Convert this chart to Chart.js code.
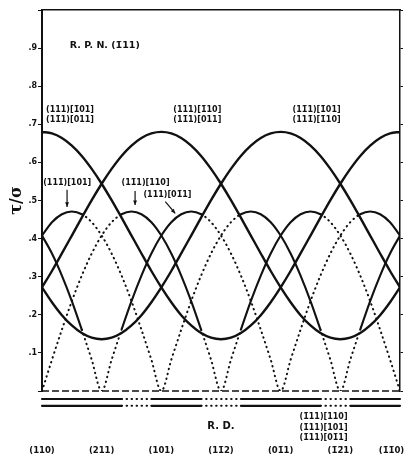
<!DOCTYPE html>
<html>
<head>
<meta charset="utf-8">
<script src="https://cdn.jsdelivr.net/npm/chart.js@4.4.1/dist/chart.umd.min.js"></script>
<style>
  html,body{margin:0;padding:0;background:#fff;}
  #wrap{width:408px;height:464px;}
</style>
</head>
<body>
<div id="wrap"><canvas id="schmidChart" width="408" height="464"></canvas></div>
<script>
// angle of R.D. in the rolling plane, degrees from [110]
const angles = [0,5,10,15,20,25,30,35,40,45,50,55,60,65,70,75,80,85,90,95,100,105,110,115,120,125,130,135,140,145,150,155,160,165,170,175,180];
const dirLabels = ['(110)','(211)','(101)','(11\u03042)','(01\u03041)','(1\u03042\u03041)','(1\u03041\u03040)'];
const yTickLabels = ['.1','.2','.3','.4','.5','.6','.7','.8','.9'];

// big curves (two systems each)
const sys101 = [.680,.676,.664,.644,.617,.583,.544,.501,.455,.408,.361,.315,.272,.233,.199,.172,.152,.140,.136,.140,.152,.172,.199,.233,.272,.315,.361,.408,.455,.501,.544,.583,.617,.644,.664,.676,.680];
const sys110 = [.272,.315,.361,.408,.455,.501,.544,.583,.617,.644,.664,.676,.680,.676,.664,.644,.617,.583,.544,.501,.455,.408,.361,.315,.272,.233,.199,.172,.152,.140,.136,.140,.152,.172,.199,.233,.272];
const sys1m01 = [.272,.233,.199,.172,.152,.140,.136,.140,.152,.172,.199,.233,.272,.315,.361,.408,.455,.501,.544,.583,.617,.644,.664,.676,.680,.676,.664,.644,.617,.583,.544,.501,.455,.408,.361,.315,.272];
// small curves
const sysF = [.408,.443,.464,.471,.464,.443,.408,.361,.303,.236,.161,.082,0,.082,.161,.236,.303,.361,.408,.443,.464,.471,.464,.443,.408,.361,.303,.236,.161,.082,0,.082,.161,.236,.303,.361,.408];
const sysE = [0,.082,.161,.236,.303,.361,.408,.443,.464,.471,.464,.443,.408,.361,.303,.236,.161,.082,0,.082,.161,.236,.303,.361,.408,.443,.464,.471,.464,.443,.408,.361,.303,.236,.161,.082,0];
const sysD = [.408,.361,.303,.236,.161,.082,0,.082,.161,.236,.303,.361,.408,.443,.464,.471,.464,.443,.408,.361,.303,.236,.161,.082,0,.082,.161,.236,.303,.361,.408,.443,.464,.471,.464,.443,.408];
// systems on the rolling plane itself
const sysZero = [0,0,0,0,0,0,0,0,0,0,0,0,0,0,0,0,0,0,0,0,0,0,0,0,0,0,0,0,0,0,0,0,0,0,0,0,0];

// where the small curves are drawn solid (rest dotted)
const solidF = [[0,20],[100,140],[160,180]];
const solidE = [[40,80],[100,140]];
const solidD = [[0,20],[40,80],[160,180]];
const solidZero = [[0,40],[55,80],[100,140],[155,180]];

const ink = '#111';
const labelFont = 'bold 8px "DejaVu Sans"';

function dotted(ranges, w){
  const isSolid = ctx => {
    const a = angles[ctx.p0DataIndex], b = angles[ctx.p1DataIndex];
    return ranges.some(r => a >= r[0] && b <= r[1]);
  };
  return {
    borderDash: ctx => isSolid(ctx) ? [] : [0.5, 4.5],
    borderWidth: ctx => isSolid(ctx) ? w : 2
  };
}

const notes = [
  {t:'R. P. N. (1\u030411)', x:14, y:.908, font:'bold 9.5px "DejaVu Sans"'},
  {t:'(111)[1\u030401]', x:2, y:.738},
  {t:'(11\u03041)[011]', x:2, y:.711},
  {t:'(111)[1\u030410]', x:66, y:.738},
  {t:'(11\u03041)[011]', x:66, y:.711},
  {t:'(11\u03041)[1\u030401]', x:126, y:.738},
  {t:'(111\u0304)[1\u030410]', x:126, y:.711},
  {t:'(111\u0304)[101]', x:0.6, y:.546},
  {t:'(11\u03041)[110]', x:40, y:.546},
  {t:'(111)[01\u03041]', x:51, y:.514},
  {t:'(1\u030411)[110]', x:129.5, y:-.068},
  {t:'(1\u030411)[101]', x:129.5, y:-.096},
  {t:'(1\u030411)[01\u03041]', x:129.5, y:-.124},
  {t:'R. D.', x:90, y:-.092, font:'bold 10px "DejaVu Sans"', align:'center'}
];
const arrows = [
  {x0:12.6, y0:.528, x1:12.6, y1:.483},
  {x0:46.8, y0:.525, x1:46.8, y1:.488},
  {x0:62, y0:.497, x1:67, y1:.466}
];

const notePlugin = {
  id: 'notes',
  afterDraw(chart){
    const {ctx, scales:{x, y}} = chart;
    ctx.save();
    ctx.fillStyle = ink;
    ctx.strokeStyle = ink;
    ctx.textBaseline = 'middle';
    notes.forEach(n => {
      ctx.font = n.font || labelFont;
      ctx.textAlign = n.align || 'left';
      ctx.fillText(n.t, x.getPixelForValue(n.x), y.getPixelForValue(n.y));
    });
    ctx.lineWidth = 1.2;
    arrows.forEach(a => {
      const x0 = x.getPixelForValue(a.x0), y0 = y.getPixelForValue(a.y0);
      const x1 = x.getPixelForValue(a.x1), y1 = y.getPixelForValue(a.y1);
      const ang = Math.atan2(y1 - y0, x1 - x0);
      ctx.beginPath(); ctx.moveTo(x0, y0); ctx.lineTo(x1, y1); ctx.stroke();
      ctx.beginPath();
      ctx.moveTo(x1, y1);
      ctx.lineTo(x1 - 5*Math.cos(ang - 0.4), y1 - 5*Math.sin(ang - 0.4));
      ctx.lineTo(x1 - 5*Math.cos(ang + 0.4), y1 - 5*Math.sin(ang + 0.4));
      ctx.closePath(); ctx.fill();
    });
    ctx.restore();
  }
};

const bigLine = data => ({data, borderColor: ink, borderWidth: 2.4, pointRadius: 0, cubicInterpolationMode: 'monotone'});
const smallLine = (data, ranges) => ({data, borderColor: ink, borderWidth: 2.1, borderCapStyle: 'round', pointRadius: 0, cubicInterpolationMode: 'monotone', segment: dotted(ranges, 2.1)});

new Chart(document.getElementById('schmidChart'), {
  type: 'line',
  data: {
    labels: angles,
    datasets: [
      smallLine(sysF, solidF),
      smallLine(sysE, solidE),
      smallLine(sysD, solidD),
      bigLine(sys101),
      bigLine(sys110),
      bigLine(sys1m01),
      {data: sysZero, borderColor: ink, borderWidth: 1.3, borderDash: [7, 3], pointRadius: 0, clip: false},
      Object.assign(smallLine(sysZero, solidZero), {yAxisID: 'yz1', clip: false}),
      Object.assign(smallLine(sysZero, solidZero), {yAxisID: 'yz2', clip: false})
    ]
  },
  options: {
    responsive: false,
    animation: false,
    layout: {padding: 0, autoPadding: false},
    plugins: {legend: {display: false}, tooltip: {enabled: false}},
    scales: {
      x: {
        type: 'linear', min: 0, max: 180, position: 'bottom',
        ticks: {stepSize: 30, autoSkip: false, maxRotation: 0, padding: 55, color: ink,
          font: {family: 'DejaVu Sans', size: 8.5, weight: 'bold'},
          // last label pulled left so it stays inside the page
          callback: v => { const i = Math.round(v / 30); return i === 6 ? dirLabels[i] + '\u2003\u2003' : dirLabels[i]; }},
        grid: {display: false, drawTicks: false},
        border: {display: false},
        afterFit: s => { s.height = 73; s.paddingLeft = 0; s.paddingRight = 0; }
      },
      xTop: {
        type: 'linear', min: 0, max: 180, position: 'top',
        ticks: {display: false},
        grid: {display: false, drawTicks: false},
        border: {display: true, color: ink, width: 1.5},
        afterFit: s => { s.height = 10; }
      },
      y: {
        min: 0, max: 1, position: 'left',
        ticks: {stepSize: 0.1, padding: 1, color: ink,
          font: {family: 'DejaVu Sans', size: 8, weight: 'bold'},
          callback: v => { const i = Math.round(v * 10); return (i >= 1 && i <= 9) ? yTickLabels[i - 1] : ''; }},
        grid: {drawOnChartArea: false, tickLength: 4, color: ink},
        border: {display: true, color: ink, width: 2},
        title: {display: true, text: '\u03c4/\u03c3', color: ink, padding: {top: 7, bottom: 0},
          font: {family: 'DejaVu Serif', size: 16, weight: 'bold'}},
        afterFit: s => { s.width = 42; s.paddingTop = 0; s.paddingBottom = 0; }
      },
      yR: {
        min: 0, max: 1, position: 'right',
        ticks: {display: false, stepSize: 0.1},
        grid: {drawOnChartArea: false, tickLength: 3, color: ink},
        border: {display: true, color: ink, width: 1.5},
        afterFit: s => { s.width = 8; }
      },
      yz1: {display: false, min: 0.021, max: 1.021},
      yz2: {display: false, min: 0.039, max: 1.039}
    }
  },
  plugins: [notePlugin]
});
</script>
</body>
</html>
